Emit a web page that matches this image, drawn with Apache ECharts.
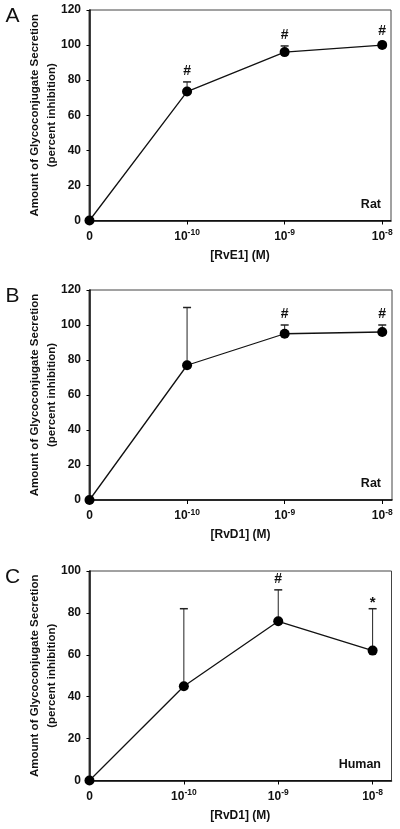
<!DOCTYPE html>
<html>
<head>
<meta charset="utf-8">
<script src="https://cdn.jsdelivr.net/npm/echarts@6/dist/echarts.min.js"></script>
<style>
html,body{margin:0;padding:0;background:#fff;}
#chart{width:400px;height:829px;}
</style>
</head>
<body>
<div id="chart"></div>
<script>
// ---- data ----
const xCategories = ['0', '-10', '-9', '-8']; // concentration: 0, 10^-10, 10^-9, 10^-8 M
const yTicksAB = [0, 20, 40, 60, 80, 100, 120];
const yTicksC = [0, 20, 40, 60, 80, 100];

const valuesA = [0, 73.5, 96, 100];
const errTopA = [0, 79, 99.5, 101.5];
const marksA = ['', '#', '#', '#'];

const valuesB = [0, 77, 95, 96];
const errTopB = [0, 110, 100, 100];
const marksB = ['', '', '#', '#'];

const valuesC = [0, 45, 76, 62];
const errTopC = [0, 82, 91, 82];
const marksC = ['', '', '#', '*'];

const panelLetters = ['A', 'B', 'C'];
const xTitles = ['[RvE1] (M)', '[RvD1] (M)', '[RvD1] (M)'];
const speciesLabels = ['Rat', 'Rat', 'Human'];
const yTitle1 = 'Amount of Glycoconjugate Secretion';
const yTitle2 = '(percent inhibition)';

// ---- chart ----
const FONT = '"Liberation Sans", Arial, Helvetica, sans-serif';
const chart = echarts.init(document.getElementById('chart'), null, {renderer: 'canvas'});

const panels = [
  {vals: valuesA, errs: errTopA, marks: marksA, ticks: yTicksAB, top: 10, height: 210.5, right: 9, xmax: 3.09},
  {vals: valuesB, errs: errTopB, marks: marksB, ticks: yTicksAB, top: 290, height: 210, right: 8, xmax: 3.1},
  {vals: valuesC, errs: errTopC, marks: marksC, ticks: yTicksC, top: 571, height: 209.5, right: 8.5, xmax: 3.2}
];

const grids = [], xAxes = [], yAxes = [], series = [], graphics = [];

panels.forEach((p, k) => {
  grids.push({left: 89, right: p.right, top: p.top, height: p.height, show: true,
    borderColor: '#444', borderWidth: 1, backgroundColor: 'transparent'});
  xAxes.push({
    type: 'value', gridIndex: k, min: -0.005, max: p.xmax,
    name: xTitles[k], nameLocation: 'middle', nameGap: 29,
    nameTextStyle: {fontFamily: FONT, fontWeight: 'bold', fontSize: 12, color: '#111'},
    axisLine: {show: true, onZero: false, lineStyle: {color: '#000', width: 1.5}},
    axisTick: {show: true, length: 4, customValues: [0, 1, 2, 3], lineStyle: {color: '#000', width: 1}},
    splitLine: {show: false},
    axisLabel: {
      customValues: [0, 1, 2, 3], margin: 8,
      formatter: function (v) {
        const c = xCategories[Math.round(v)];
        if (c === '0') return '{b|0}';
        return '{b|10}{s|' + c + '}';
      },
      rich: {
        b: {fontFamily: FONT, fontWeight: 'bold', fontSize: 12, color: '#111', lineHeight: 14, verticalAlign: 'bottom'},
        s: {fontFamily: FONT, fontWeight: 'bold', fontSize: 8.5, color: '#111', lineHeight: 14, verticalAlign: 'top', padding: [0, 0, 4, 0]}
      }
    }
  });
  yAxes.push({
    type: 'value', gridIndex: k, min: p.ticks[0], max: p.ticks[p.ticks.length - 1], interval: p.ticks[1] - p.ticks[0],
    axisLine: {show: true, lineStyle: {color: '#000', width: 1.5}},
    axisTick: {show: true, length: 3, lineStyle: {color: '#000', width: 1}},
    splitLine: {show: false},
    axisLabel: {margin: 8, fontFamily: FONT, fontWeight: 'bold', fontSize: 12, color: '#111'}
  });
  series.push({
    type: 'line', xAxisIndex: k, yAxisIndex: k,
    data: p.vals.map((v, i) => [i, v]),
    symbol: 'circle', symbolSize: 10, showSymbol: true,
    lineStyle: {color: '#111', width: 1.3},
    itemStyle: {color: '#000'},
    z: 5, animation: false, clip: false
  });
  series.push({
    type: 'custom', xAxisIndex: k, yAxisIndex: k,
    data: p.vals.map((v, i) => [i, v, p.errs[i]]),
    clip: false, z: 4, animation: false,
    renderItem: function (params, api) {
      const x = api.value(0), y = api.value(1), t = api.value(2);
      const a = api.coord([x, y]);
      const b = api.coord([x, t]);
      const mark = p.marks[params.dataIndex];
      const children = [];
      if (t > y) {
        children.push({type: 'line', shape: {x1: a[0], y1: a[1], x2: b[0], y2: b[1]},
          style: {stroke: '#222', lineWidth: 1}});
        children.push({type: 'line', shape: {x1: b[0] - 4, y1: b[1], x2: b[0] + 4, y2: b[1]},
          style: {stroke: '#222', lineWidth: 1.5}});
      }
      if (mark) {
        children.push({type: 'text', x: b[0], y: b[1] - (mark === '*' ? 6 : 11),
          style: {text: mark, fontFamily: FONT, fontWeight: 'bold', fontSize: mark === '*' ? 15 : 14,
            fill: '#111', align: 'center', verticalAlign: 'middle'}});
      }
      return {type: 'group', children: children};
    }
  });
  const midY = p.top + p.height / 2;
  graphics.push({type: 'text', x: 12.5, y: p.top + 6,
    style: {text: panelLetters[k], fontFamily: FONT, fontSize: 21, fill: '#111', align: 'center', verticalAlign: 'middle'}});
  graphics.push({type: 'text', x: 35, y: midY, rotation: Math.PI / 2,
    style: {text: yTitle1, fontFamily: FONT, fontWeight: 'bold', fontSize: 11.5, fill: '#111', align: 'center', verticalAlign: 'middle'}});
  graphics.push({type: 'text', x: 52, y: midY, rotation: Math.PI / 2,
    style: {text: yTitle2, fontFamily: FONT, fontWeight: 'bold', fontSize: 11.5, fill: '#111', align: 'center', verticalAlign: 'middle'}});
  graphics.push({type: 'text', x: 381, y: p.top + p.height - 16,
    style: {text: speciesLabels[k], fontFamily: FONT, fontWeight: 'bold', fontSize: 12.5, fill: '#111', align: 'right', verticalAlign: 'middle'}});
});

chart.setOption({
  backgroundColor: '#fff',
  animation: false,
  grid: grids, xAxis: xAxes, yAxis: yAxes, series: series, graphic: graphics
});
</script>
</body>
</html>
